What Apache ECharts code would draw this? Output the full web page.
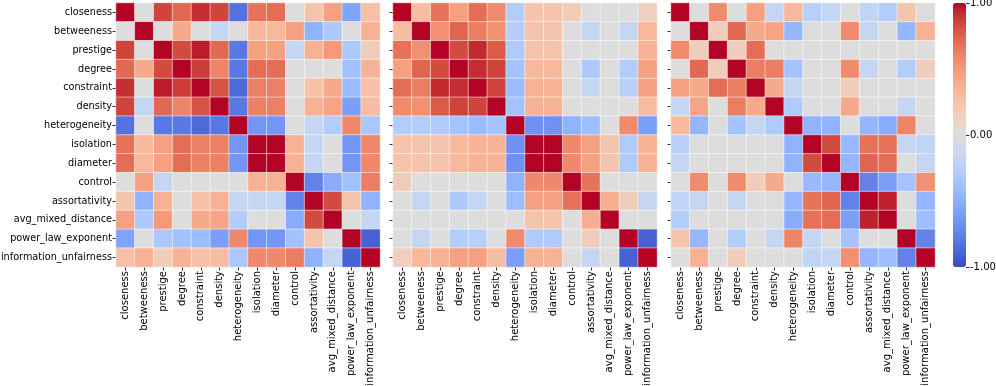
<!DOCTYPE html>
<html>
<head>
<meta charset="utf-8">
<script src="https://cdn.jsdelivr.net/npm/echarts@6/dist/echarts.min.js"></script>
<style>
html,body{margin:0;padding:0;background:#fff;}
#chart{width:996px;height:386px;}
</style>
</head>
<body>
<div id="chart"></div>
<script>
// ---- data ----
const categories = ['closeness','betweeness','prestige','degree','constraint','density','heterogeneity','isolation','diameter','control','assortativity','avg_mixed_distance','power_law_exponent','information_unfairness'];

const matrixLeft = [
  [1, 0, 0.85, 0.72, 0.92, 0.85, -0.83, 0.68, 0.70, 0, 0.25, 0.47, -0.57, 0.28],
  [0, 1, 0, 0.42, 0, -0.17, 0, 0.33, 0.33, 0.47, -0.48, -0.31, 0, 0.37],
  [0.85, 0, 1, 0.83, 0.96, 0.72, -0.80, 0.47, 0.47, -0.17, 0.37, 0.50, -0.33, 0.18],
  [0.72, 0.42, 0.83, 1, 0.88, 0.60, -0.80, 0.70, 0.70, 0, 0, 0, -0.38, 0.37],
  [0.92, 0, 0.96, 0.88, 1, 0.80, -0.87, 0.62, 0.62, 0, 0.27, 0.42, -0.42, 0.27],
  [0.85, -0.17, 0.72, 0.60, 0.80, 1, -0.80, 0.62, 0.62, 0, 0.37, 0.45, -0.60, 0.30],
  [-0.83, 0, -0.80, -0.80, -0.87, -0.80, 1, -0.65, -0.65, 0, -0.17, -0.28, 0.58, -0.33],
  [0.68, 0.33, 0.47, 0.70, 0.62, 0.62, -0.65, 1, 1, 0.37, -0.17, 0, -0.65, 0.58],
  [0.70, 0.33, 0.47, 0.70, 0.62, 0.62, -0.65, 1, 1, 0.37, -0.17, 0, -0.65, 0.58],
  [0, 0.47, -0.17, 0, 0, 0, 0, 0.37, 0.37, 1, -0.75, -0.52, -0.38, 0.63],
  [0.25, -0.48, 0.37, 0, 0.27, 0.37, -0.17, -0.17, -0.17, -0.75, 1, 0.83, 0.25, -0.48],
  [0.47, -0.31, 0.50, 0, 0.42, 0.45, -0.28, 0, 0, -0.52, 0.83, 1, 0, -0.17],
  [-0.57, 0, -0.33, -0.38, -0.42, -0.60, 0.58, -0.65, -0.65, -0.38, 0.25, 0, 1, -0.90],
  [0.28, 0.37, 0.18, 0.37, 0.27, 0.30, -0.33, 0.58, 0.58, 0.63, -0.48, -0.17, -0.90, 1]
];

const matrixMiddle = [
  [1, 0.30, 0.68, 0.47, 0.70, 0.57, -0.28, 0.25, 0.25, 0.18, 0, 0, 0, 0.15],
  [0.30, 1, 0.55, 0.73, 0.63, 0.55, -0.28, 0.25, 0.25, 0, -0.17, 0, -0.17, 0.33],
  [0.68, 0.55, 1, 0.83, 0.93, 0.77, -0.30, 0.25, 0.25, 0, 0, 0, 0, 0.37],
  [0.47, 0.73, 0.83, 1, 0.92, 0.86, -0.37, 0.33, 0.33, 0, -0.31, 0, -0.28, 0.47],
  [0.70, 0.63, 0.93, 0.92, 1, 0.85, -0.42, 0.37, 0.37, 0, -0.17, 0, -0.25, 0.47],
  [0.57, 0.55, 0.77, 0.86, 0.85, 1, -0.37, 0.37, 0.37, 0, 0, 0, 0, 0.30],
  [-0.28, -0.28, -0.30, -0.37, -0.42, -0.37, 1, -0.67, -0.67, -0.48, -0.40, 0, 0.57, -0.60],
  [0.25, 0.25, 0.25, 0.33, 0.37, 0.37, -0.67, 1, 1, 0.58, 0.47, 0.25, -0.30, 0.37],
  [0.25, 0.25, 0.25, 0.33, 0.37, 0.37, -0.67, 1, 1, 0.58, 0.47, 0.25, -0.30, 0.37],
  [0.18, 0, 0, 0, 0, 0, -0.48, 0.58, 0.58, 1, 0.68, 0, 0, 0],
  [0, -0.17, 0, -0.31, -0.17, 0, -0.40, 0.47, 0.47, 0.68, 1, 0.40, 0.18, -0.17],
  [0, 0, 0, 0, 0, 0, 0, 0.25, 0.25, 0, 0.40, 1, 0, 0],
  [0, -0.17, 0, -0.28, -0.25, 0, 0.57, -0.30, -0.30, 0, 0.18, 0, 1, -0.90],
  [0.15, 0.33, 0.37, 0.47, 0.47, 0.30, -0.60, 0.37, 0.37, 0, -0.17, 0, -0.90, 1]
];

const matrixRight = [
  [1, 0, 0.57, 0, 0.47, -0.17, 0.33, -0.25, -0.17, 0, -0.20, -0.28, 0.25, 0],
  [0, 1, 0.18, 0.72, 0.42, 0.45, -0.45, 0, 0, 0.57, -0.17, 0, -0.45, 0.37],
  [0.57, 0.18, 1, 0.18, 0.70, 0, 0, 0, 0, 0, 0, 0, 0, 0],
  [0, 0.72, 0.18, 1, 0.63, 0.63, -0.37, 0, 0, 0.57, -0.17, 0, -0.28, 0.18],
  [0.47, 0.42, 0.70, 0.63, 1, 0.42, -0.17, 0, 0, 0.18, 0, 0, 0, 0],
  [-0.17, 0.45, 0, 0.63, 0.42, 1, -0.30, 0, 0, 0.42, 0, 0, -0.17, 0],
  [0.33, -0.45, 0, -0.37, -0.17, -0.30, 1, -0.48, -0.48, 0, -0.45, -0.52, 0.60, 0],
  [-0.25, 0, 0, 0, 0, 0, -0.48, 1, 0.83, -0.43, 0.68, 0.68, -0.17, -0.20],
  [-0.17, 0, 0, 0, 0, 0, -0.48, 0.83, 1, -0.45, 0.73, 0.70, 0, -0.17],
  [0, 0.57, 0, 0.57, 0.18, 0.42, 0, -0.43, -0.45, 1, -0.75, -0.60, -0.37, 0.55],
  [-0.20, -0.17, 0, -0.17, 0, 0, -0.45, 0.68, 0.73, -0.75, 1, 0.95, 0, -0.45],
  [-0.28, 0, 0, 0, 0, 0, -0.52, 0.68, 0.70, -0.60, 0.95, 1, 0, -0.40],
  [0.25, -0.45, 0, -0.28, 0, -0.17, 0.60, -0.17, 0, -0.37, 0, 0, 1, -0.75],
  [0, 0.37, 0, 0.18, 0, 0, 0, -0.20, -0.17, 0.55, -0.45, -0.40, -0.75, 1]
];

const colorbarTicks = [-1, 0, 1];

// ---- styling ----
const coolwarm = ['#3b4cc0','#445acc','#4d68d7','#5775e1','#6282ea','#6c8ef1','#779af7','#82a5fb','#8db0fe','#98b9ff','#a3c2ff','#aec9fd','#b8d0f9','#c2d5f4','#ccd9ee','#d5dbe6','#dddddd','#e5d8d1','#ecd3c5','#f1ccb8','#f5c4ac','#f7bb9f','#f7b194','#f7a688','#f49a7b','#f18d6f','#ec7f63','#e57058','#de604d','#d55042','#cb3e38','#c0282f','#b40426'];
const FONT = 'DejaVu Sans';
const FS = 10;
const FSY = 9.7;
const gridLefts = [116, 393, 671];
const SIZE = 264, TOP = 3;

function toData(m) {
  const out = [];
  for (let r = 0; r < m.length; r++)
    for (let c = 0; c < m[r].length; c++)
      out.push([c, r, m[r][c]]);
  return out;
}
const matrices = [matrixLeft, matrixMiddle, matrixRight];

const grids = gridLefts.map(l => ({left: l, top: TOP, width: SIZE, height: SIZE, containLabel: false, outerBoundsMode: 'none'}));
grids.push({left: 953, top: TOP, width: 13, height: SIZE, containLabel: false, outerBoundsMode: 'none'});

const xAxes = gridLefts.map((l, i) => ({
  type: 'category', gridIndex: i, data: categories, position: 'bottom',
  axisLine: {show: false},
  axisTick: {show: true, alignWithLabel: true, length: 3.5, lineStyle: {color: '#000', width: 0.8}},
  axisLabel: {interval: 0, rotate: 90, fontSize: FS, fontFamily: FONT, color: '#000', margin: 4},
  splitLine: {show: false}
}));
xAxes.push({type: 'category', gridIndex: 3, data: ['cb'], show: false});

const yAxes = gridLefts.map((l, i) => ({
  type: 'category', gridIndex: i, data: categories, inverse: true,
  axisLine: {show: false},
  axisTick: {show: true, alignWithLabel: true, length: 3.5, lineStyle: {color: '#000', width: 0.8}},
  axisLabel: {show: i === 0, interval: 0, fontSize: FSY, fontFamily: FONT, color: '#000', margin: 4},
  splitLine: {show: false}
}));
yAxes.push({
  type: 'value', gridIndex: 3, position: 'right', min: colorbarTicks[0], max: colorbarTicks[colorbarTicks.length-1], interval: 1,
  axisLine: {show: false},
  axisTick: {show: true, length: 3.5, lineStyle: {color: '#000', width: 0.8}},
  axisLabel: {fontSize: FS, fontFamily: FONT, color: '#000', margin: 4, formatter: v => v.toFixed(2)},
  splitLine: {show: false}
});

const series = matrices.map((m, i) => ({
  type: 'heatmap', xAxisIndex: i, yAxisIndex: i, data: toData(m),
  itemStyle: {borderColor: 'rgba(255,255,255,0.85)', borderWidth: 0.6},
  emphasis: {disabled: true}
}));

const chart = echarts.init(document.getElementById('chart'), null, {renderer: 'canvas'});
chart.setOption({
  animation: false,
  backgroundColor: '#fff',
  textStyle: {fontFamily: FONT},
  grid: grids,
  xAxis: xAxes,
  yAxis: yAxes,
  visualMap: {
    type: 'continuous', min: -1, max: 1, calculable: false, show: true,
    seriesIndex: [0, 1, 2],
    left: 953, top: TOP, itemWidth: 13, itemHeight: SIZE, padding: 0,
    text: null, showLabel: false,
    inRange: {color: coolwarm}
  },
  series: series
});
</script>
</body>
</html>
